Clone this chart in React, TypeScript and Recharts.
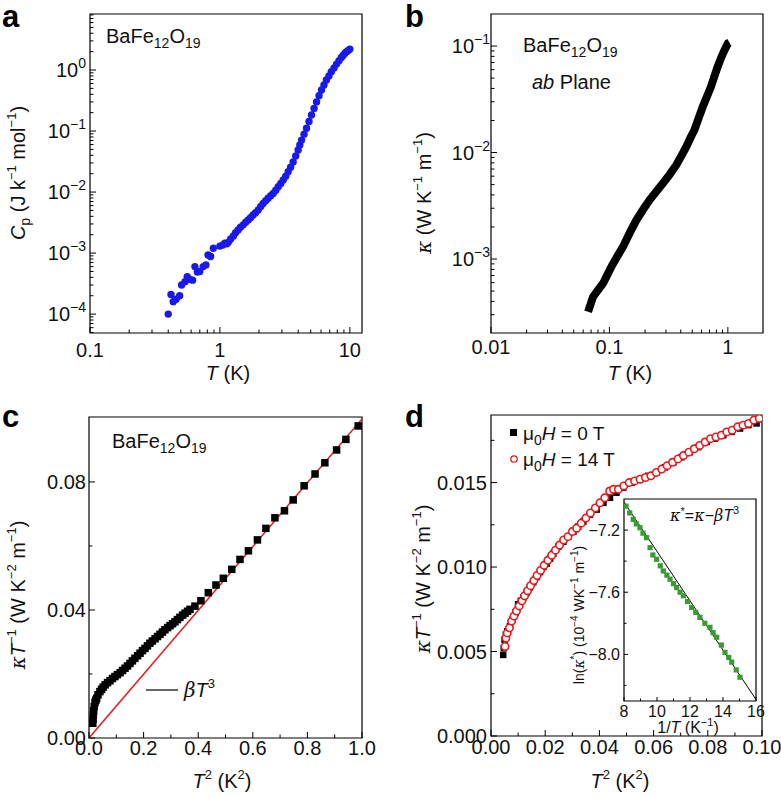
import React from 'react';
import { ComposedChart, Scatter, Line, XAxis, YAxis, ReferenceArea } from 'recharts';

const FONT = '"Liberation Sans", Arial, Helvetica, sans-serif';

// a: specific heat, Cp vs T
const cpT = [0.40, 0.42, 0.437, 0.46, 0.49, 0.507, 0.538, 0.56, 0.588, 0.616, 0.642, 0.67, 0.70, 0.744, 0.78, 0.81, 0.848, 0.89, 1.0, 1.05, 1.09, 1.13, 1.16, 1.21, 1.27, 1.32, 1.38, 1.44, 1.51, 1.58, 1.65, 1.72, 1.80, 1.88, 1.97, 2.06, 2.15, 2.25, 2.35, 2.46, 2.57, 2.69, 2.81, 2.94, 3.07, 3.21, 3.35, 3.5, 3.66, 3.83, 4.0, 4.12, 4.25, 4.44, 4.64, 4.85, 5.07, 5.3, 5.54, 5.79, 6.05, 6.32, 6.6, 6.9, 7.2, 7.55, 7.9, 8.25, 8.6, 8.9, 9.2, 9.5, 9.8, 10.0];
const cpVal = [1.0e-4, 2.1e-4, 1.6e-4, 1.75e-4, 2.0e-4, 3.0e-4, 3.4e-4, 4.1e-4, 3.7e-4, 3.6e-4, 6.0e-4, 4.9e-4, 5.0e-4, 6.0e-4, 6.4e-4, 9.3e-4, 8.8e-4, 1.2e-3, 1.3e-3, 1.35e-3, 1.45e-3, 1.42e-3, 1.5e-3, 1.7e-3, 1.9e-3, 2.15e-3, 2.4e-3, 2.65e-3, 2.9e-3, 3.2e-3, 3.5e-3, 3.8e-3, 4.2e-3, 4.6e-3, 5.1e-3, 5.8e-3, 6.5e-3, 7.2e-3, 7.9e-3, 8.7e-3, 9.5e-3, 1.07e-2, 1.22e-2, 1.38e-2, 1.58e-2, 1.82e-2, 2.15e-2, 2.55e-2, 3.1e-2, 3.9e-2, 4.9e-2, 5.9e-2, 7.1e-2, 8.9e-2, 0.111, 0.143, 0.183, 0.235, 0.30, 0.38, 0.47, 0.57, 0.686, 0.80, 0.94, 1.08, 1.25, 1.42, 1.6, 1.75, 1.9, 2.02, 2.12, 2.2];

// b: thermal conductivity, ab plane
const kT = [0.066, 0.0726, 0.08, 0.0883, 0.096, 0.104, 0.116, 0.130, 0.148, 0.169, 0.192, 0.218, 0.249, 0.283, 0.322, 0.366, 0.405, 0.445, 0.482, 0.522, 0.566, 0.614, 0.665, 0.72, 0.77, 0.82, 0.87, 0.93, 1.0, 1.03];
const kVal = [3.2e-4, 4.4e-4, 5.1e-4, 5.9e-4, 7.1e-4, 8.5e-4, 1.05e-3, 1.3e-3, 1.75e-3, 2.32e-3, 2.9e-3, 3.58e-3, 4.3e-3, 5.14e-3, 6.2e-3, 7.6e-3, 9.3e-3, 1.13e-2, 1.37e-2, 1.63e-2, 2.1e-2, 2.69e-2, 3.35e-2, 4.15e-2, 5.2e-2, 6.4e-2, 7.6e-2, 9.0e-2, 0.106, 0.108];

// c: kappa/T vs T^2
const cT2 = [0.014, 0.015, 0.016, 0.017, 0.019, 0.022, 0.025, 0.028, 0.033, 0.040, 0.046, 0.052, 0.059, 0.068, 0.077, 0.086, 0.095, 0.104, 0.114, 0.123, 0.132, 0.141, 0.15, 0.159, 0.168, 0.178, 0.187, 0.196, 0.205, 0.214, 0.223, 0.232, 0.242, 0.251, 0.26, 0.269, 0.278, 0.288, 0.297, 0.306, 0.315, 0.324, 0.333, 0.343, 0.352, 0.361, 0.37, 0.388, 0.410, 0.437, 0.465, 0.492, 0.523, 0.553, 0.584, 0.617, 0.648, 0.681, 0.716, 0.748, 0.788, 0.828, 0.864, 0.907, 0.941, 0.986];
const cKT = [0.0046, 0.0059, 0.0072, 0.0085, 0.0098, 0.0111, 0.0118, 0.0124, 0.0135, 0.0145, 0.0152, 0.0159, 0.0166, 0.0173, 0.0179, 0.0186, 0.0192, 0.0198, 0.0204, 0.0211, 0.0218, 0.0225, 0.0233, 0.0241, 0.0249, 0.0257, 0.0265, 0.0273, 0.028, 0.0288, 0.0296, 0.0303, 0.031, 0.0317, 0.0324, 0.0331, 0.0338, 0.0345, 0.0351, 0.0357, 0.0363, 0.037, 0.0377, 0.0384, 0.039, 0.0396, 0.0402, 0.0412, 0.0429, 0.0454, 0.0478, 0.0499, 0.0527, 0.0558, 0.0585, 0.0619, 0.0655, 0.0688, 0.0710, 0.0744, 0.0788, 0.0825, 0.086, 0.090, 0.0933, 0.0975];
const betaX = [0, 1.0];
const betaY = [0, 0.0997];

// d: low-temperature kappa/T at 0 T and 14 T
const d0T2 = [0.0045, 0.0047, 0.005, 0.0055, 0.006, 0.007, 0.008, 0.009, 0.010, 0.011, 0.012, 0.0132, 0.0144, 0.0156, 0.0168, 0.0181, 0.0193, 0.0206, 0.0218, 0.023, 0.0248, 0.0267, 0.0285, 0.0304, 0.0322, 0.0341, 0.0365, 0.039, 0.0415, 0.0439, 0.0463, 0.0488, 0.052, 0.055, 0.058, 0.0611, 0.0642, 0.0673, 0.0703, 0.0734, 0.0765, 0.0796, 0.0826, 0.0857, 0.0888, 0.0919, 0.095, 0.098];
const d0KT = [0.0048, 0.0052, 0.0057, 0.006, 0.0062, 0.0065, 0.0069, 0.0073, 0.0078, 0.008, 0.0082, 0.0085, 0.0088, 0.0091, 0.0094, 0.0097, 0.01, 0.0102, 0.0105, 0.0108, 0.0112, 0.0115, 0.0118, 0.0121, 0.0124, 0.0127, 0.0131, 0.0134, 0.0138, 0.0141, 0.0144, 0.0147, 0.015, 0.0152, 0.0154, 0.0156, 0.0159, 0.0162, 0.0165, 0.0168, 0.0171, 0.0174, 0.0176, 0.0178, 0.018, 0.0182, 0.0184, 0.0185];
const d14T2 = [0.0052, 0.0055, 0.006, 0.0068, 0.0076, 0.0085, 0.0094, 0.0104, 0.0114, 0.0124, 0.0135, 0.0146, 0.0158, 0.017, 0.0183, 0.0196, 0.021, 0.0224, 0.0238, 0.0253, 0.0268, 0.0284, 0.03, 0.0316, 0.0333, 0.035, 0.0367, 0.0385, 0.0402, 0.042, 0.0438, 0.0452, 0.047, 0.049, 0.051, 0.053, 0.055, 0.057, 0.059, 0.061, 0.063, 0.065, 0.067, 0.069, 0.071, 0.073, 0.075, 0.077, 0.079, 0.081, 0.083, 0.085, 0.087, 0.089, 0.091, 0.093, 0.095, 0.097, 0.099];
const d14KT = [0.0053, 0.0058, 0.0061, 0.0064, 0.0068, 0.0071, 0.0074, 0.0077, 0.008, 0.0083, 0.0086, 0.0089, 0.0092, 0.0095, 0.0098, 0.0101, 0.0104, 0.0107, 0.011, 0.0113, 0.0116, 0.0118, 0.0121, 0.0123, 0.0126, 0.0129, 0.0132, 0.0135, 0.0138, 0.0141, 0.0145, 0.0146, 0.0146, 0.0148, 0.015, 0.0151, 0.0152, 0.0153, 0.0154, 0.0156, 0.0158, 0.016, 0.0162, 0.0164, 0.0166, 0.0168, 0.017, 0.0172, 0.0174, 0.0176, 0.0177, 0.0178, 0.018, 0.0181, 0.0183, 0.0184, 0.0185, 0.0187, 0.0188];

// d inset: ln(kappa*) vs 1/T
const invT = [8.12, 8.35, 8.56, 8.75, 8.97, 9.15, 9.37, 9.58, 9.75, 9.98, 10.2, 10.38, 10.6, 10.79, 11.0, 11.19, 11.4, 11.6, 11.85, 12.1, 12.35, 12.6, 12.9, 13.21, 13.4, 13.62, 13.9, 14.12, 14.35, 14.53, 14.8, 15.03];
const lnK = [-7.046, -7.09, -7.131, -7.16, -7.185, -7.22, -7.249, -7.313, -7.36, -7.388, -7.43, -7.463, -7.49, -7.516, -7.545, -7.57, -7.6, -7.623, -7.66, -7.698, -7.73, -7.762, -7.8, -7.826, -7.86, -7.89, -7.94, -7.987, -8.02, -8.05, -8.1, -8.147];
const fitX = [8, 16];
const fitY = [-7.02, -8.29];

// ticks
const aXTicks = [0.1, 0.2, 0.3, 0.4, 0.5, 0.6, 0.7, 0.8, 0.9, 1, 2, 3, 4, 5, 6, 7, 8, 9, 10];
const aXMajor = [0.1, 1, 10];
const aYTicks = [5e-5, 6e-5, 7e-5, 8e-5, 9e-5, 1e-4, 2e-4, 3e-4, 4e-4, 5e-4, 6e-4, 7e-4, 8e-4, 9e-4, 1e-3, 2e-3, 3e-3, 4e-3, 5e-3, 6e-3, 7e-3, 8e-3, 9e-3, 1e-2, 2e-2, 3e-2, 4e-2, 5e-2, 6e-2, 7e-2, 8e-2, 9e-2, 0.1, 0.2, 0.3, 0.4, 0.5, 0.6, 0.7, 0.8, 0.9, 1, 2, 3, 4, 5, 6, 7, 8];
const aYMajor = [1e-4, 1e-3, 1e-2, 0.1, 1];
const bXTicks = [0.01, 0.02, 0.03, 0.04, 0.05, 0.06, 0.07, 0.08, 0.09, 0.1, 0.2, 0.3, 0.4, 0.5, 0.6, 0.7, 0.8, 0.9, 1];
const bXMajor = [0.01, 0.1, 1];
const bYTicks = [3e-4, 4e-4, 5e-4, 6e-4, 7e-4, 8e-4, 9e-4, 1e-3, 2e-3, 3e-3, 4e-3, 5e-3, 6e-3, 7e-3, 8e-3, 9e-3, 1e-2, 2e-2, 3e-2, 4e-2, 5e-2, 6e-2, 7e-2, 8e-2, 9e-2, 0.1];
const bYMajor = [1e-3, 1e-2, 0.1];
const cXTicks = [0, 0.1, 0.2, 0.3, 0.4, 0.5, 0.6, 0.7, 0.8, 0.9, 1.0];
const cXMajor = [0, 0.2, 0.4, 0.6, 0.8, 1.0];
const cYTicks = [0, 0.02, 0.04, 0.06, 0.08];
const cYMajor = [0, 0.04, 0.08];
const dXTicks = [0, 0.01, 0.02, 0.03, 0.04, 0.05, 0.06, 0.07, 0.08, 0.09, 0.1];
const dXMajor = [0, 0.02, 0.04, 0.06, 0.08, 0.1];
const dYTicks = [0, 0.0025, 0.005, 0.0075, 0.01, 0.0125, 0.015, 0.0175];
const dYMajor = [0, 0.005, 0.01, 0.015];
const iXTicks = [8, 9, 10, 11, 12, 13, 14, 15, 16];
const iXMajor = [8, 10, 12, 14, 16];
const iYTicks = [-8.2, -8.0, -7.8, -7.6, -7.4, -7.2];
const iYMajor = [-8.0, -7.6, -7.2];

const pts = (xs: number[], ys: number[]) => xs.map((x, i) => ({ x, y: ys[i] }));

const isIn = (list: number[], v: number) =>
  list.some((m) => Math.abs(m - v) <= Math.abs(m) * 1e-6 + 1e-12);

const minus = (s: string) => s.replace('-', '\u2212');

const powLabel = (v: number) => {
  const e = Math.round(Math.log10(v));
  return [
    <tspan key="b">10</tspan>,
    <tspan key="e" dy={-9} fontSize={14}>{minus(String(e))}</tspan>,
  ];
};

interface TickOpts {
  side: 'left' | 'bottom';
  majors: number[];
  label: (v: number) => React.ReactNode;
  gap: number;
  size?: number;
  len?: number;
  minorLen?: number;
}

const makeTick = (o: TickOpts) => (props: any) => {
  const { x, y, payload } = props;
  const v = payload.value;
  const major = isIn(o.majors, v);
  const L = major ? o.len ?? 6 : o.minorLen ?? 3.5;
  const fs = o.size ?? 20;
  if (o.side === 'left') {
    return (
      <g>
        <line x1={x} x2={x + L} y1={y} y2={y} stroke="#000" strokeWidth={1} />
        {major && (
          <text x={x - o.gap} y={y} dy="0.36em" textAnchor="end" fontSize={fs} fontFamily={FONT} fill="#111">
            {o.label(v)}
          </text>
        )}
      </g>
    );
  }
  return (
    <g>
      <line x1={x} x2={x} y1={y} y2={y - L} stroke="#000" strokeWidth={1} />
      {major && (
        <text x={x} y={y + o.gap} dy="0.72em" textAnchor="middle" fontSize={fs} fontFamily={FONT} fill="#111">
          {o.label(v)}
        </text>
      )}
    </g>
  );
};

interface PanelProps {
  left: number;
  top: number;
  width: number;
  height: number;
  mTop: number;
  mRight: number;
  yWidth: number;
  xHeight: number;
  xDomain: [number, number];
  yDomain: [number, number];
  xLog?: boolean;
  yLog?: boolean;
  xTicks: number[];
  yTicks: number[];
  xTick: any;
  yTick: any;
  children: React.ReactNode;
}

const Panel = (p: PanelProps) => (
  <div style={{ position: 'absolute', left: p.left, top: p.top, width: p.width, height: p.height }}>
    <ComposedChart width={p.width} height={p.height} margin={{ top: p.mTop, right: p.mRight, bottom: 0, left: 0 }}>
      <XAxis
        type="number"
        dataKey="x"
        scale={p.xLog ? 'log' : 'linear'}
        domain={p.xDomain}
        allowDataOverflow
        ticks={p.xTicks}
        interval={0}
        height={p.xHeight}
        axisLine={false}
        tickLine={false}
        tickSize={0}
        tickMargin={0}
        tick={p.xTick}
      />
      <YAxis
        type="number"
        dataKey="y"
        scale={p.yLog ? 'log' : 'linear'}
        domain={p.yDomain}
        allowDataOverflow
        ticks={p.yTicks}
        interval={0}
        width={p.yWidth}
        axisLine={false}
        tickLine={false}
        tickSize={0}
        tickMargin={0}
        tick={p.yTick}
      />
      {p.children}
      <ReferenceArea
        x1={p.xDomain[0]}
        x2={p.xDomain[1]}
        y1={p.yDomain[0]}
        y2={p.yDomain[1]}
        fill="none"
        fillOpacity={0}
        stroke="#000"
        strokeWidth={1.2}
        ifOverflow="visible"
      />
    </ComposedChart>
  </div>
);

const blueDot = (s: any) => <circle cx={s.cx} cy={s.cy} r={3.7} fill="#1a1ae8" />;
const blackSq = (n: number) => (s: any) => <rect x={s.cx - n / 2} y={s.cy - n / 2} width={n} height={n} fill="#000" />;
const redRing = (s: any) => <circle cx={s.cx} cy={s.cy} r={3.7} fill="#fff" stroke="#e8191c" strokeWidth={1.6} />;
const greenSq = (s: any) => <rect x={s.cx - 2.6} y={s.cy - 2.6} width={5.2} height={5.2} fill="#3c9a36" />;

const Overlay = () => {
  const formula = (x: number, y: number) => (
    <text x={x} y={y} fontSize={20} fontFamily={FONT} fill="#111">
      BaFe<tspan fontSize={14} dy={5}>12</tspan>
      <tspan dy={-5}>O</tspan>
      <tspan fontSize={14} dy={5}>19</tspan>
    </text>
  );
  const kLabel = (x: number, y: number) => (
    <text transform={`translate(${x},${y}) rotate(-90)`} textAnchor="middle" fontSize={20} fontFamily={FONT} fill="#111">
      <tspan fontFamily="DejaVu Serif" fontStyle="italic">κ</tspan>
      <tspan fontStyle="italic">T</tspan>
      <tspan dy={-9} fontSize={13}>−1</tspan>
      <tspan dy={9}> (W K</tspan>
      <tspan dy={-9} fontSize={13}>−2</tspan>
      <tspan dy={9}> m</tspan>
      <tspan dy={-9} fontSize={13}>−1</tspan>
      <tspan dy={9}>)</tspan>
    </text>
  );
  const t2Label = (x: number, y: number) => (
    <text x={x} y={y} textAnchor="middle" fontSize={20} fontFamily={FONT} fill="#111">
      <tspan fontStyle="italic">T</tspan>
      <tspan dy={-9} fontSize={13}>2</tspan>
      <tspan dy={9}> (K</tspan>
      <tspan dy={-9} fontSize={13}>2</tspan>
      <tspan dy={9}>)</tspan>
    </text>
  );
  return (
    <svg width={781} height={798} style={{ position: 'absolute', left: 0, top: 0, pointerEvents: 'none' }}>
      <g fontFamily={FONT} fontWeight="bold" fontSize={31} fill="#000">
        <text x={2} y={27}>a</text>
        <text x={405} y={27}>b</text>
        <text x={2} y={427}>c</text>
        <text x={405} y={427}>d</text>
      </g>
      {/* a */}
      {formula(106, 43)}
      <text transform="translate(25,173) rotate(-90)" textAnchor="middle" fontSize={20} fontFamily={FONT} fill="#111">
        <tspan fontStyle="italic">C</tspan>
        <tspan dy={5} fontSize={14}>p</tspan>
        <tspan dy={-5}> (J k</tspan>
        <tspan dy={-9} fontSize={13}>−1</tspan>
        <tspan dy={9}> mol</tspan>
        <tspan dy={-9} fontSize={13}>−1</tspan>
        <tspan dy={9}>)</tspan>
      </text>
      <text x={228} y={380} textAnchor="middle" fontSize={20} fontFamily={FONT} fill="#111">
        <tspan fontStyle="italic">T</tspan> (K)
      </text>
      {/* b */}
      {formula(523, 52)}
      <text x={532} y={89} fontSize={20} fontFamily={FONT} fill="#111">
        <tspan fontStyle="italic">ab</tspan> Plane
      </text>
      <text transform="translate(431,193) rotate(-90)" textAnchor="middle" fontSize={20} fontFamily={FONT} fill="#111">
        <tspan fontFamily="DejaVu Serif" fontStyle="italic">κ</tspan>
        <tspan> (W K</tspan>
        <tspan dy={-9} fontSize={13}>−1</tspan>
        <tspan dy={9}> m</tspan>
        <tspan dy={-9} fontSize={13}>−1</tspan>
        <tspan dy={9}>)</tspan>
      </text>
      <text x={630} y={380} textAnchor="middle" fontSize={20} fontFamily={FONT} fill="#111">
        <tspan fontStyle="italic">T</tspan> (K)
      </text>
      {/* c */}
      {formula(112, 448)}
      {kLabel(25, 595)}
      {t2Label(222, 788)}
      <line x1={146} x2={178} y1={690} y2={690} stroke="#000" strokeWidth={1.2} />
      <text x={184} y={697} fontSize={20} fontFamily={FONT} fill="#111">
        <tspan fontFamily="DejaVu Serif" fontStyle="italic">β</tspan>
        <tspan fontStyle="italic">T</tspan>
        <tspan dy={-9} fontSize={13}>3</tspan>
      </text>
      {/* d */}
      {kLabel(430, 579)}
      {t2Label(620, 788)}
      <rect x={510} y={429} width={7} height={7} fill="#000" />
      <text x={523} y={440} fontSize={19} fontFamily={FONT} fill="#111">
        μ<tspan dy={5} fontSize={14}>0</tspan>
        <tspan dy={-5} fontStyle="italic">H</tspan> = 0 T
      </text>
      <circle cx={514} cy={459} r={3.2} fill="#fff" stroke="#e8191c" strokeWidth={1.3} />
      <text x={523} y={466} fontSize={19} fontFamily={FONT} fill="#111">
        μ<tspan dy={5} fontSize={14}>0</tspan>
        <tspan dy={-5} fontStyle="italic">H</tspan> = 14 T
      </text>
      {/* inset */}
      <text x={670} y={521} fontSize={16} fontFamily={FONT} fill="#111">
        <tspan fontFamily="DejaVu Serif" fontStyle="italic">κ</tspan>
        <tspan dy={-6} fontSize={11}>*</tspan>
        <tspan dy={6}>=</tspan>
        <tspan fontFamily="DejaVu Serif" fontStyle="italic">κ</tspan>
        <tspan>−</tspan>
        <tspan fontFamily="DejaVu Serif" fontStyle="italic">β</tspan>
        <tspan fontStyle="italic">T</tspan>
        <tspan dy={-7} fontSize={11}>3</tspan>
      </text>
      <text transform="translate(584,615) rotate(-90)" textAnchor="middle" fontSize={14} fontFamily={FONT} fill="#111">
        <tspan>ln(</tspan>
        <tspan fontFamily="DejaVu Serif" fontStyle="italic">κ</tspan>
        <tspan dy={-6} fontSize={10}>*</tspan>
        <tspan dy={6}>) (10</tspan>
        <tspan dy={-6} fontSize={10}>−4</tspan>
        <tspan dy={6}> WK</tspan>
        <tspan dy={-6} fontSize={10}>−1</tspan>
        <tspan dy={6}> m</tspan>
        <tspan dy={-6} fontSize={10}>−1</tspan>
        <tspan dy={6}>)</tspan>
      </text>
      <text x={688} y={733} textAnchor="middle" fontSize={16} fontFamily={FONT} fill="#111">
        1/<tspan fontStyle="italic">T</tspan> (K<tspan dy={-7} fontSize={11}>−1</tspan>
        <tspan dy={7}>)</tspan>
      </text>
    </svg>
  );
};

const App = () => {
  const fix = (n: number) => (v: number) => minus(v.toFixed(n));
  return (
    <div style={{ position: 'absolute', left: 0, top: 0, width: 781, height: 798, background: '#fff', fontFamily: FONT }}>
      {/* a */}
      <Panel
        left={0} top={0} width={390} height={400} mTop={14} mRight={28} yWidth={90} xHeight={67}
        xDomain={[0.1, 12.4]} yDomain={[4.9e-5, 8.28]} xLog yLog
        xTicks={aXTicks} yTicks={aYTicks}
        xTick={makeTick({ side: 'bottom', majors: aXMajor, label: (v) => String(v), gap: 10 })}
        yTick={makeTick({ side: 'left', majors: aYMajor, label: powLabel, gap: 4 })}
      >
        <Scatter data={pts(cpT, cpVal)} dataKey="y" shape={blueDot} isAnimationActive={false} />
      </Panel>
      {/* b */}
      <Panel
        left={390} top={0} width={391} height={400} mTop={14} mRight={18} yWidth={101} xHeight={67}
        xDomain={[0.01, 1.98]} yDomain={[2.02e-4, 0.2]} xLog yLog
        xTicks={bXTicks} yTicks={bYTicks}
        xTick={makeTick({ side: 'bottom', majors: bXMajor, label: (v) => String(v), gap: 7 })}
        yTick={makeTick({ side: 'left', majors: bYMajor, label: powLabel, gap: 1 })}
      >
        <Line data={pts(kT, kVal)} dataKey="y" stroke="#000" strokeWidth={8} dot={false} isAnimationActive={false} />
      </Panel>
      {/* c */}
      <Panel
        left={0} top={400} width={390} height={398} mTop={17} mRight={28} yWidth={89} xHeight={60}
        xDomain={[0, 1]} yDomain={[0, 0.1003]}
        xTicks={cXTicks} yTicks={cYTicks}
        xTick={makeTick({ side: 'bottom', majors: cXMajor, label: fix(1), gap: 3 })}
        yTick={makeTick({ side: 'left', majors: cYMajor, label: fix(2), gap: 3 })}
      >
        <Scatter data={pts(cT2, cKT)} dataKey="y" shape={blackSq(7.5)} isAnimationActive={false} />
        <Line data={pts(betaX, betaY)} dataKey="y" stroke="#e8191c" strokeWidth={1.5} dot={false} isAnimationActive={false} />
      </Panel>
      {/* d */}
      <Panel
        left={390} top={400} width={391} height={398} mTop={15} mRight={19} yWidth={101} xHeight={62}
        xDomain={[0, 0.1]} yDomain={[0, 0.019]}
        xTicks={dXTicks} yTicks={dYTicks}
        xTick={makeTick({ side: 'bottom', majors: dXMajor, label: fix(2), gap: 4 })}
        yTick={makeTick({ side: 'left', majors: dYMajor, label: fix(3), gap: 4 })}
      >
        <Scatter data={pts(d0T2, d0KT)} dataKey="y" shape={blackSq(6.5)} isAnimationActive={false} />
        <Scatter data={pts(d14T2, d14KT)} dataKey="y" shape={redRing} isAnimationActive={false} />
      </Panel>
      {/* d inset */}
      <Panel
        left={560} top={495} width={210} height={240} mTop={4} mRight={14} yWidth={64} xHeight={34}
        xDomain={[8, 16]} yDomain={[-8.3, -7.0]}
        xTicks={iXTicks} yTicks={iYTicks}
        xTick={makeTick({ side: 'bottom', majors: iXMajor, label: (v) => String(v), gap: 4, size: 16, len: 4, minorLen: 2.5 })}
        yTick={makeTick({ side: 'left', majors: iYMajor, label: fix(1), gap: 4, size: 16, len: 4, minorLen: 2.5 })}
      >
        <Scatter data={pts(invT, lnK)} dataKey="y" shape={greenSq} isAnimationActive={false} />
        <Line data={pts(fitX, fitY)} dataKey="y" stroke="#000" strokeWidth={1} dot={false} isAnimationActive={false} />
      </Panel>
      <Overlay />
    </div>
  );
};

export default App;
